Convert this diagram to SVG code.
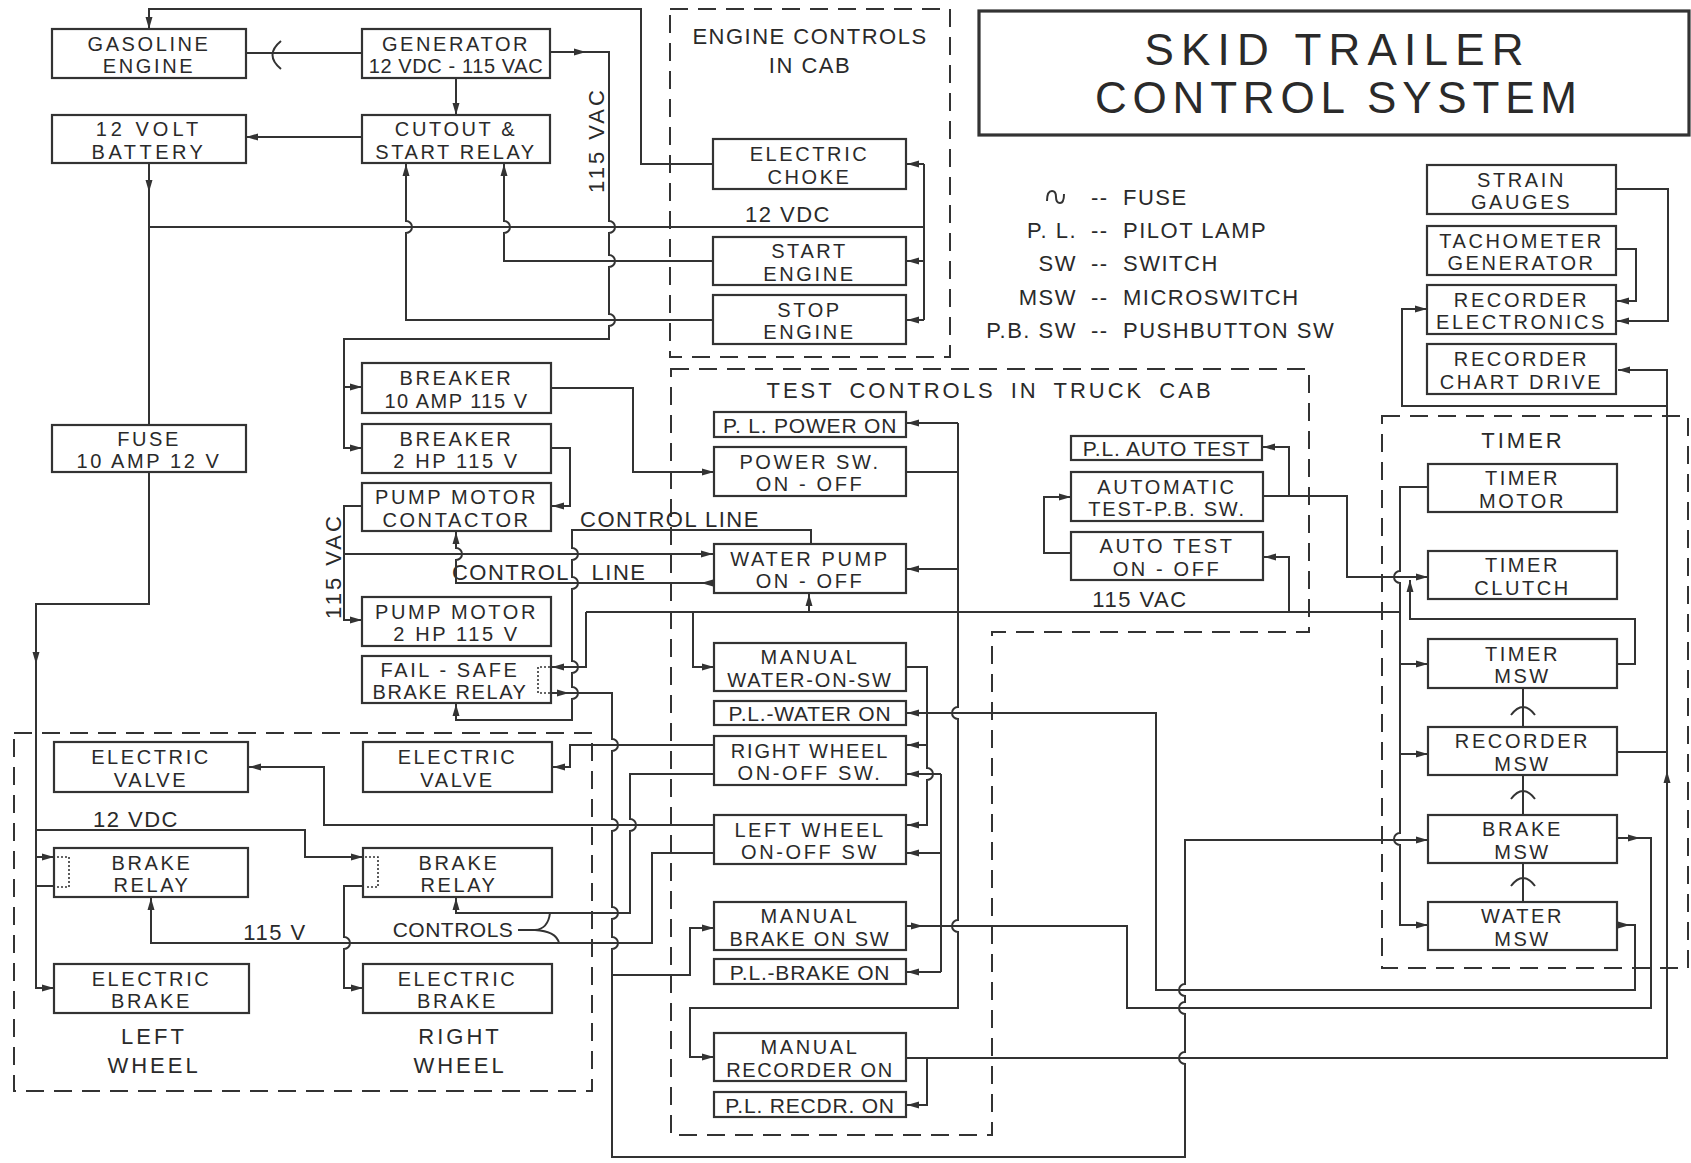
<svg xmlns="http://www.w3.org/2000/svg" width="1691" height="1163" viewBox="0 0 1691 1163">
<defs>
<style>
.b{fill:none;stroke:#333;stroke-width:2.2}
.w{fill:none;stroke:#333;stroke-width:2}
.d{fill:none;stroke:#333;stroke-width:2;stroke-dasharray:18 10}
.dot{fill:none;stroke:#333;stroke-width:1.6;stroke-dasharray:2 2}
.t{font-family:"Liberation Sans",Arial,sans-serif;font-size:20px;fill:#2a2a2a;text-anchor:middle;letter-spacing:2.6px}
.lb{font-family:"Liberation Sans",Arial,sans-serif;font-size:22px;fill:#2a2a2a;text-anchor:middle;letter-spacing:1.5px}
.s{font-family:"Liberation Sans",Arial,sans-serif;font-size:21px;fill:#2a2a2a;text-anchor:middle;letter-spacing:0.8px}
.l{font-family:"Liberation Sans",Arial,sans-serif;font-size:22px;fill:#2a2a2a;letter-spacing:1.5px}
.ttl{font-family:"Liberation Sans",Arial,sans-serif;font-size:44px;fill:#2a2a2a;text-anchor:middle}
</style>
<marker id="ar" viewBox="0 0 12 8" refX="12" refY="4" markerWidth="12" markerHeight="8" orient="auto" markerUnits="userSpaceOnUse"><path d="M0,0.5 L12,4 L0,7.5 z" fill="#333"/></marker>
</defs>
<rect width="1691" height="1163" fill="#fff"/>

<g id="frames">
<rect class="d" x="670" y="9" width="280" height="348"/>
<path class="d" d="M671,369 H1309 V632 H992 V1135 H671 Z"/>
<rect class="d" x="14" y="733" width="578" height="358"/>
<rect class="d" x="1382" y="416" width="306" height="552"/>
<rect x="979" y="11" width="710" height="124" fill="none" stroke="#333" stroke-width="3.2"/>
</g>

<g id="title">
<text class="ttl" x="1334" y="65" textLength="379" lengthAdjust="spacing">SKID TRAILER</text>
<text class="ttl" x="1336" y="113" textLength="482" lengthAdjust="spacing">CONTROL SYSTEM</text>
</g>

<g id="legend">
<path class="w" d="M1047,201 q0,-10 5,-10 q4,0 4,6 q0,6 4,6 q4,0 4,-9"/>
<text class="l" x="1091" y="205">--</text><text class="l" x="1123" y="205">FUSE</text>
<text class="l" x="1077" y="238" text-anchor="end">P. L.</text><text class="l" x="1091" y="238">--</text><text class="l" x="1123" y="238">PILOT  LAMP</text>
<text class="l" x="1077" y="271" text-anchor="end">SW</text><text class="l" x="1091" y="271">--</text><text class="l" x="1123" y="271">SWITCH</text>
<text class="l" x="1077" y="305" text-anchor="end">MSW</text><text class="l" x="1091" y="305">--</text><text class="l" x="1123" y="305">MICROSWITCH</text>
<text class="l" x="1077" y="338" text-anchor="end">P.B. SW</text><text class="l" x="1091" y="338">--</text><text class="l" x="1123" y="338">PUSHBUTTON  SW</text>
</g>

<g id="labels">
<text class="lb" x="810" y="44">ENGINE  CONTROLS</text>
<text class="lb" x="810" y="73">IN  CAB</text>
<text class="lb" x="990" y="398" style="letter-spacing:3px;word-spacing:6px">TEST CONTROLS IN TRUCK CAB</text>
<text class="lb" x="1523" y="448" style="letter-spacing:3px">TIMER</text>
<text class="lb" x="788" y="222">12 VDC</text>
<text class="lb" transform="translate(604,140) rotate(-90)" x="0" y="0" style="letter-spacing:3px">115 VAC</text>
<text class="lb" transform="translate(341,566) rotate(-90)" x="0" y="0" style="letter-spacing:3px">115 VAC</text>
<text class="lb" x="1140" y="607">115 VAC</text>
<text class="lb" x="670" y="527">CONTROL  LINE</text>
<text class="lb" x="511" y="580">CONTROL</text>
<text class="lb" x="619" y="580">LINE</text>
<text class="lb" x="136" y="827">12 VDC</text>
<text class="lb" x="275" y="940">115 V</text>
<text class="lb" x="453" y="937" style="font-size:21px;letter-spacing:0.5px">CONTROLS</text>
<text class="lb" x="154" y="1044" style="letter-spacing:3px">LEFT</text>
<text class="lb" x="154" y="1073" style="letter-spacing:3px">WHEEL</text>
<text class="lb" x="460" y="1044" style="letter-spacing:3px">RIGHT</text>
<text class="lb" x="460" y="1073" style="letter-spacing:3px">WHEEL</text>
</g>

<g id="connectors">
<path class="w" d="M713,164 H641 V9 H149 V29" marker-end="url(#ar)"/>
<path class="w" d="M245,53 H362"/>
<path class="w" d="M281,41 Q264,55 281,69"/>
<path class="w" d="M550,52 H586" marker-end="url(#ar)"/>
<path class="w" d="M586,52 H609 V221 a6,6 0 0 1 0,12 V255 a6,6 0 0 1 0,12 V314 a6,6 0 0 1 0,12 V339 H344 V448 H362" marker-end="url(#ar)"/>
<path class="w" d="M344,387 H362" marker-end="url(#ar)"/>
<path class="w" d="M456,78 V115" marker-end="url(#ar)"/>
<path class="w" d="M362,137 H246" marker-end="url(#ar)"/>
<path class="w" d="M149,163 V192" marker-end="url(#ar)"/>
<path class="w" d="M149,190 V425"/>
<path class="w" d="M149,227 H924"/>
<path class="w" d="M714,320 H406 V233 a6,6 0 0 0 0,-12 V164" marker-end="url(#ar)"/>
<path class="w" d="M714,261 H504 V233 a6,6 0 0 0 0,-12 V164" marker-end="url(#ar)"/>
<path class="w" d="M924,164 V320"/>
<path class="w" d="M924,164 H907" marker-end="url(#ar)"/>
<path class="w" d="M924,261 H907" marker-end="url(#ar)"/>
<path class="w" d="M924,320 H907" marker-end="url(#ar)"/>

<path class="w" d="M551,388 H633 V472 H714" marker-end="url(#ar)"/>
<path class="w" d="M551,448 H570 V506 H552" marker-end="url(#ar)"/>
<path class="w" d="M362,506 H344 V620 H362" marker-end="url(#ar)"/>
<path class="w" d="M344,554 H713" marker-end="url(#ar)"/>
<path class="w" d="M713,583 H456 V560 a6,6 0 0 0 0,-12 V532" marker-end="url(#ar)"/>
<path class="w" d="M713,583 H701" marker-end="url(#ar)"/>
<path class="w" d="M811,544 V530 H572 V548 a6,6 0 0 1 0,12 V577 a6,6 0 0 1 0,12 V661 a6,6 0 0 1 0,12 V687 a6,6 0 0 1 0,12 V720 H456 V704" marker-end="url(#ar)"/>
<path class="w" d="M586,612 H1400"/>
<path class="w" d="M586,612 V667 H552" marker-end="url(#ar)"/>
<path class="w" d="M552,693 H569" marker-end="url(#ar)"/>
<path class="w" d="M569,693 H612 V739 a6,6 0 0 1 0,12 V819 a6,6 0 0 1 0,12 V907 a6,6 0 0 1 0,12 V937 a6,6 0 0 1 0,12 V1157 H1185 V1064 a6,6 0 0 1 0,-12 V1014 a6,6 0 0 1 0,-12 V996 a6,6 0 0 1 0,-12 V840 H1428" marker-end="url(#ar)"/>
<path class="w" d="M693,612 V667 H714" marker-end="url(#ar)"/>
<path class="w" d="M809,612 V594" marker-end="url(#ar)"/>
<path class="w" d="M906,472 H958"/>
<path class="w" d="M958,423 H907" marker-end="url(#ar)"/>
<path class="w" d="M958,423 V707 a6,6 0 0 0 0,12 V920 a6,6 0 0 0 0,12 V1008 H690 V1057 H714" marker-end="url(#ar)"/>
<path class="w" d="M958,569 H907" marker-end="url(#ar)"/>
<path class="w" d="M906,667 H927 V768 a6,6 0 0 1 0,12 V825 H907" marker-end="url(#ar)"/>
<path class="w" d="M927,745 H907" marker-end="url(#ar)"/>
<path class="w" d="M941,774 V972"/>
<path class="w" d="M941,774 H907" marker-end="url(#ar)"/>
<path class="w" d="M941,853 H907" marker-end="url(#ar)"/>
<path class="w" d="M941,972 H907" marker-end="url(#ar)"/>
<path class="w" d="M906,926 H923" marker-end="url(#ar)"/>
<path class="w" d="M923,926 H1127 V1008 H1651 V838 H1640"/>
<path class="w" d="M1617,838 H1640" marker-end="url(#ar)"/>
<path class="w" d="M1617,925 H1630" marker-end="url(#ar)"/>
<path class="w" d="M1630,925 H1635 V990 H1156 V713 H907" marker-end="url(#ar)"/>
<path class="w" d="M906,1058 H1667 V370 H1618" marker-end="url(#ar)"/>
<path class="w" d="M1667,790 V771" marker-end="url(#ar)"/>
<path class="w" d="M927,1058 V1105 H907" marker-end="url(#ar)"/>
<path class="w" d="M612,975 H690 V928 H714" marker-end="url(#ar)"/>
<path class="w" d="M1617,752 H1667"/>
<path class="w" d="M1667,406 H1402 V309 H1427" marker-end="url(#ar)"/>
<path class="w" d="M1616,189 H1668 V321 H1617" marker-end="url(#ar)"/>
<path class="w" d="M1616,249 H1636 V301 H1617" marker-end="url(#ar)"/>

<path class="w" d="M1428,487 H1400 V571 a6,6 0 0 0 0,12 V833 a6,6 0 0 0 0,12 V925 H1428" marker-end="url(#ar)"/>
<path class="w" d="M1400,664 H1428" marker-end="url(#ar)"/>
<path class="w" d="M1400,754 H1428" marker-end="url(#ar)"/>
<path class="w" d="M1263,496 H1347 V577 H1428" marker-end="url(#ar)"/>
<path class="w" d="M1289,496 V447 H1263" marker-end="url(#ar)"/>
<path class="w" d="M1289,612 V557 H1264" marker-end="url(#ar)"/>
<path class="w" d="M1071,553 H1044 V497 H1071" marker-end="url(#ar)"/>
<path class="w" d="M1617,664 H1635 V619 H1410 V580" marker-end="url(#ar)"/>
<path class="w" d="M1523,727 V688 M1511,715 Q1523,699 1535,715"/>
<path class="w" d="M1523,815 V775 M1511,799 Q1523,783 1535,799"/>
<path class="w" d="M1523,902 V863 M1511,886 Q1523,870 1535,886"/>

<path class="w" d="M149,472 V604 H36 V988 H54" marker-end="url(#ar)"/>
<path class="w" d="M36,648 V664" marker-end="url(#ar)"/>
<path class="w" d="M36,857 H54" marker-end="url(#ar)"/>
<path class="w" d="M54,886 H36"/>
<path class="w" d="M36,830 H305 V857 H363" marker-end="url(#ar)"/>
<path class="w" d="M363,886 H344 V937 a6,6 0 0 1 0,12 V988 H363" marker-end="url(#ar)"/>
<path class="w" d="M715,853 H652 V943 H151 V898" marker-end="url(#ar)"/>
<path class="w" d="M715,774 H630 V819 a6,6 0 0 1 0,12 V913 H456 V898" marker-end="url(#ar)"/>
<path class="w" d="M715,745 H570 V767 H553" marker-end="url(#ar)"/>
<path class="w" d="M715,825 H324 V767 H249" marker-end="url(#ar)"/>
<path class="w" d="M518,930 H535 Q548,929 550,913 M535,930 Q556,931 559,943"/>
</g>

<g id="gasoline"><rect class="b" x="52" y="29" width="194" height="49"/><text class="t" x="149" y="50.5">GASOLINE</text><text class="t" x="149" y="73">ENGINE</text></g>
<g id="generator"><rect class="b" x="362" y="29" width="188" height="49"/><text class="t" x="456" y="50.5">GENERATOR</text><text class="t" x="456" y="73" style="letter-spacing:0.6px">12 VDC - 115 VAC</text></g>
<g id="battery"><rect class="b" x="52" y="115" width="194" height="48"/><text class="t" x="149" y="136" style="letter-spacing:4px">12 VOLT</text><text class="t" x="149" y="158.5" style="letter-spacing:3.5px">BATTERY</text></g>
<g id="cutout"><rect class="b" x="362" y="115" width="188" height="48"/><text class="t" x="456" y="136">CUTOUT &amp;</text><text class="t" x="456" y="158.5">START RELAY</text></g>
<g id="fuse"><rect class="b" x="52" y="425" width="194" height="47"/><text class="t" x="149" y="445.5">FUSE</text><text class="t" x="149" y="468">10 AMP  12 V</text></g>
<g id="choke"><rect class="b" x="713" y="139" width="193" height="50"/><text class="t" x="809.5" y="161">ELECTRIC</text><text class="t" x="809.5" y="183.5">CHOKE</text></g>
<g id="start"><rect class="b" x="713" y="237" width="193" height="48"/><text class="t" x="809.5" y="258">START</text><text class="t" x="809.5" y="280.5">ENGINE</text></g>
<g id="stop"><rect class="b" x="713" y="295" width="193" height="49"/><text class="t" x="809.5" y="316.5">STOP</text><text class="t" x="809.5" y="339">ENGINE</text></g>
<g id="breaker10"><rect class="b" x="362" y="363" width="189" height="50"/><text class="t" x="456.5" y="385">BREAKER</text><text class="t" x="456.5" y="407.5" style="letter-spacing:1.5px">10 AMP  115 V</text></g>
<g id="breaker2"><rect class="b" x="362" y="424" width="189" height="49"/><text class="t" x="456.5" y="445.5">BREAKER</text><text class="t" x="456.5" y="468">2 HP   115 V</text></g>
<g id="contactor"><rect class="b" x="362" y="483" width="189" height="48"/><text class="t" x="456.5" y="504">PUMP MOTOR</text><text class="t" x="456.5" y="526.5">CONTACTOR</text></g>
<g id="pumpmotor"><rect class="b" x="362" y="597" width="189" height="49"/><text class="t" x="456.5" y="618.5">PUMP MOTOR</text><text class="t" x="456.5" y="641">2 HP   115 V</text></g>
<g id="failsafe"><rect class="b" x="362" y="656" width="189" height="47"/><path class="dot" d="M550,667 H538 V693 H550"/><text class="t" x="450" y="676.5">FAIL - SAFE</text><text class="t" x="450" y="699" style="letter-spacing:1.6px">BRAKE RELAY</text></g>
<g id="pl-power"><rect class="b" x="714" y="412" width="192" height="25"/><text class="s" x="810" y="432.5">P. L. POWER ON</text></g>
<g id="power-sw"><rect class="b" x="714" y="447" width="192" height="49"/><text class="t" x="810" y="468.5">POWER SW.</text><text class="t" x="810" y="491">ON - OFF</text></g>
<g id="water-pump"><rect class="b" x="714" y="544" width="192" height="49"/><text class="t" x="810" y="565.5">WATER PUMP</text><text class="t" x="810" y="588">ON - OFF</text></g>
<g id="manual-water"><rect class="b" x="714" y="643" width="192" height="48"/><text class="t" x="810" y="664">MANUAL</text><text class="t" x="810" y="686.5" style="letter-spacing:1.8px">WATER-ON-SW</text></g>
<g id="pl-water"><rect class="b" x="714" y="701" width="192" height="24"/><text class="s" x="810" y="721">P.L.-WATER ON</text></g>
<g id="right-wheel-sw"><rect class="b" x="714" y="736" width="192" height="49"/><text class="t" x="810" y="757.5" style="letter-spacing:1.8px">RIGHT WHEEL</text><text class="t" x="810" y="780">ON-OFF SW.</text></g>
<g id="left-wheel-sw"><rect class="b" x="714" y="815" width="192" height="49"/><text class="t" x="810" y="836.5">LEFT WHEEL</text><text class="t" x="810" y="859">ON-OFF SW</text></g>
<g id="manual-brake"><rect class="b" x="714" y="902" width="192" height="48"/><text class="t" x="810" y="923">MANUAL</text><text class="t" x="810" y="945.5" style="letter-spacing:1.8px">BRAKE ON SW</text></g>
<g id="pl-brake"><rect class="b" x="714" y="959" width="192" height="25"/><text class="s" x="810" y="979.5">P.L.-BRAKE ON</text></g>
<g id="manual-recorder"><rect class="b" x="714" y="1033" width="192" height="48"/><text class="t" x="810" y="1054">MANUAL</text><text class="t" x="810" y="1076.5" style="letter-spacing:1.6px">RECORDER ON</text></g>
<g id="pl-recorder"><rect class="b" x="714" y="1092" width="192" height="25"/><text class="s" x="810" y="1112.5">P.L. RECDR. ON</text></g>
<g id="pl-auto"><rect class="b" x="1071" y="436" width="191" height="24"/><text class="s" x="1166.5" y="456">P.L. AUTO TEST</text></g>
<g id="automatic"><rect class="b" x="1071" y="472" width="192" height="49"/><text class="t" x="1167" y="493.5">AUTOMATIC</text><text class="t" x="1167" y="516" style="letter-spacing:1.8px">TEST-P.B. SW.</text></g>
<g id="auto-test"><rect class="b" x="1071" y="532" width="192" height="48"/><text class="t" x="1167" y="553">AUTO TEST</text><text class="t" x="1167" y="575.5">ON - OFF</text></g>
<g id="strain"><rect class="b" x="1427" y="165" width="189" height="49"/><text class="t" x="1521.5" y="186.5">STRAIN</text><text class="t" x="1521.5" y="209">GAUGES</text></g>
<g id="tach"><rect class="b" x="1427" y="226" width="189" height="49"/><text class="t" x="1521.5" y="247.5">TACHOMETER</text><text class="t" x="1521.5" y="270">GENERATOR</text></g>
<g id="rec-elec"><rect class="b" x="1427" y="285" width="189" height="49"/><text class="t" x="1521.5" y="306.5">RECORDER</text><text class="t" x="1521.5" y="329">ELECTRONICS</text></g>
<g id="chart"><rect class="b" x="1427" y="344" width="189" height="50"/><text class="t" x="1521.5" y="366">RECORDER</text><text class="t" x="1521.5" y="388.5">CHART DRIVE</text></g>
<g id="timer-motor"><rect class="b" x="1428" y="464" width="189" height="48"/><text class="t" x="1522.5" y="485">TIMER</text><text class="t" x="1522.5" y="507.5">MOTOR</text></g>
<g id="timer-clutch"><rect class="b" x="1428" y="551" width="189" height="48"/><text class="t" x="1522.5" y="572">TIMER</text><text class="t" x="1522.5" y="594.5">CLUTCH</text></g>
<g id="timer-msw"><rect class="b" x="1428" y="639" width="189" height="49"/><text class="t" x="1522.5" y="660.5">TIMER</text><text class="t" x="1522.5" y="683">MSW</text></g>
<g id="recorder-msw"><rect class="b" x="1428" y="727" width="189" height="48"/><text class="t" x="1522.5" y="748">RECORDER</text><text class="t" x="1522.5" y="770.5">MSW</text></g>
<g id="brake-msw"><rect class="b" x="1428" y="815" width="189" height="48"/><text class="t" x="1522.5" y="836">BRAKE</text><text class="t" x="1522.5" y="858.5">MSW</text></g>
<g id="water-msw"><rect class="b" x="1428" y="902" width="189" height="48"/><text class="t" x="1522.5" y="923">WATER</text><text class="t" x="1522.5" y="945.5">MSW</text></g>
<g id="left-valve"><rect class="b" x="54" y="742" width="194" height="50"/><text class="t" x="151" y="764">ELECTRIC</text><text class="t" x="151" y="786.5">VALVE</text></g>
<g id="right-valve"><rect class="b" x="363" y="742" width="189" height="50"/><text class="t" x="457.5" y="764">ELECTRIC</text><text class="t" x="457.5" y="786.5">VALVE</text></g>
<g id="left-relay"><rect class="b" x="54" y="848" width="194" height="49"/><path class="dot" d="M57,857 H69 V887 H57"/><text class="t" x="152" y="869.5">BRAKE</text><text class="t" x="152" y="892">RELAY</text></g>
<g id="right-relay"><rect class="b" x="363" y="848" width="189" height="49"/><path class="dot" d="M365,857 H378 V887 H365"/><text class="t" x="459" y="869.5">BRAKE</text><text class="t" x="459" y="892">RELAY</text></g>
<g id="left-brake"><rect class="b" x="54" y="964" width="195" height="49"/><text class="t" x="151.5" y="985.5">ELECTRIC</text><text class="t" x="151.5" y="1008">BRAKE</text></g>
<g id="right-brake"><rect class="b" x="363" y="964" width="189" height="49"/><text class="t" x="457.5" y="985.5">ELECTRIC</text><text class="t" x="457.5" y="1008">BRAKE</text></g>
</svg>
